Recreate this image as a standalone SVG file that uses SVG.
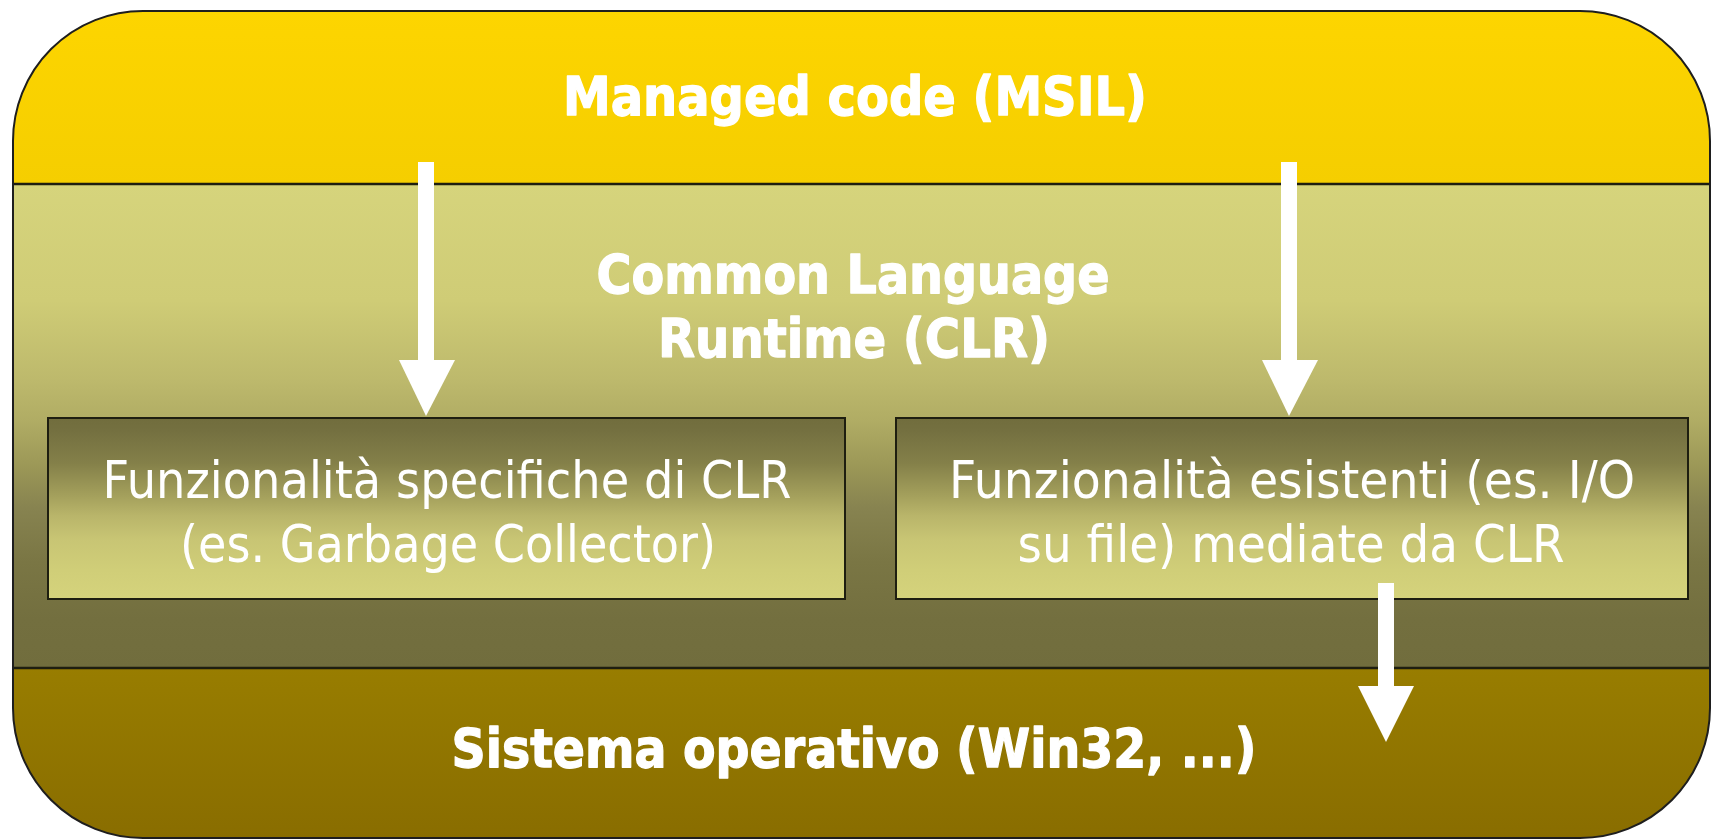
<svg xmlns="http://www.w3.org/2000/svg" width="1714" height="840" viewBox="0 0 1714 840">
  <defs>
    <linearGradient id="gTop" x1="0" y1="0" x2="0" y2="1">
      <stop offset="0" stop-color="#FDD500"/>
      <stop offset="1" stop-color="#F5CE00"/>
    </linearGradient>
    <linearGradient id="gMid" x1="0" y1="0" x2="0" y2="1">
      <stop offset="0" stop-color="#D6D47C"/>
      <stop offset="0.24" stop-color="#CFCC76"/>
      <stop offset="0.405" stop-color="#BDB96C"/>
      <stop offset="0.49" stop-color="#B0AC64"/>
      <stop offset="0.59" stop-color="#9A9656"/>
      <stop offset="0.67" stop-color="#878350"/>
      <stop offset="0.78" stop-color="#7A7644"/>
      <stop offset="0.9" stop-color="#736F3F"/>
      <stop offset="1" stop-color="#716D3D"/>
    </linearGradient>
    <linearGradient id="gBot" x1="0" y1="0" x2="0" y2="1">
      <stop offset="0" stop-color="#987D00"/>
      <stop offset="1" stop-color="#896D00"/>
    </linearGradient>
    <linearGradient id="gBox" x1="0" y1="0" x2="0" y2="1">
      <stop offset="0" stop-color="#716D3D"/>
      <stop offset="0.07" stop-color="#747040"/>
      <stop offset="0.25" stop-color="#848049"/>
      <stop offset="0.43" stop-color="#A4A05C"/>
      <stop offset="0.54" stop-color="#B9B56A"/>
      <stop offset="0.67" stop-color="#C8C574"/>
      <stop offset="0.84" stop-color="#D0CE78"/>
      <stop offset="1" stop-color="#D5D37C"/>
    </linearGradient>
    <clipPath id="outerClip">
      <rect x="13" y="11" width="1697" height="827" rx="130" ry="130"/>
    </clipPath>
  </defs>
  <style>
    .title { font-family: "DejaVu Sans", "Liberation Sans", sans-serif; font-weight: bold; font-size: 53px; fill: #FFFFFF; stroke: #FFFFFF; stroke-width: 1.3; stroke-linejoin: round; text-anchor: middle; }
    .label { font-family: "DejaVu Sans", "Liberation Sans", sans-serif; font-size: 51px; fill: #FFFFFF; text-anchor: middle; }
    .box { stroke: #1E1E10; stroke-width: 2; fill: url(#gBox); }
    .divider { stroke: #1E1E10; stroke-width: 2.5; }
    .arrow { fill: #FFFFFF; }
  </style>

  <!-- layered background -->
  <g id="layers" clip-path="url(#outerClip)">
    <rect id="managed-band" x="13" y="11" width="1697" height="173" fill="url(#gTop)"/>
    <rect id="clr-band" x="13" y="184" width="1697" height="484" fill="url(#gMid)"/>
    <rect id="os-band" x="13" y="668" width="1697" height="170" fill="url(#gBot)"/>
    <line class="divider" x1="13" y1="184" x2="1710" y2="184"/>
    <line class="divider" x1="13" y1="668" x2="1710" y2="668"/>
  </g>
  <rect x="13" y="11" width="1697" height="827" rx="130" ry="130" fill="none" stroke="#1E1E1E" stroke-width="2"/>

  <g id="managed-code">
    <text class="title" x="855" y="115" textLength="584" lengthAdjust="spacingAndGlyphs">Managed code (MSIL)</text>
  </g>

  <g id="clr">
    <text class="title" x="853" y="293" textLength="513" lengthAdjust="spacingAndGlyphs">Common Language</text>
    <text class="title" x="854" y="357" textLength="392" lengthAdjust="spacingAndGlyphs">Runtime (CLR)</text>
  </g>

  <g id="os">
    <text class="title" x="854" y="767" textLength="805" lengthAdjust="spacingAndGlyphs">Sistema operativo (Win32, ...)</text>
  </g>

  <g id="clr-specific">
    <rect class="box" x="48" y="418" width="797" height="181"/>
    <text class="label" x="447" y="498" textLength="689" lengthAdjust="spacingAndGlyphs">Funzionalità specifiche di CLR</text>
    <text class="label" x="448" y="562" textLength="536" lengthAdjust="spacingAndGlyphs">(es. Garbage Collector)</text>
  </g>

  <g id="clr-mediated">
    <rect class="box" x="896" y="418" width="792" height="181"/>
    <text class="label" x="1292" y="498" textLength="686" lengthAdjust="spacingAndGlyphs">Funzionalità esistenti (es. I/O</text>
    <text class="label" x="1291" y="562" textLength="547" lengthAdjust="spacingAndGlyphs">su file) mediate da CLR</text>
  </g>

  <!-- connectors: thick white block arrows -->
  <g id="connectors" class="arrow">
    <rect x="418" y="162" width="16" height="200"/>
    <polygon points="399,360 455,360 426,416"/>
    <rect x="1281" y="162" width="16" height="200"/>
    <polygon points="1262,360 1318,360 1289,416"/>
    <rect x="1378" y="583" width="16" height="105"/>
    <polygon points="1358,686 1414,686 1386,742"/>
  </g>
</svg>
